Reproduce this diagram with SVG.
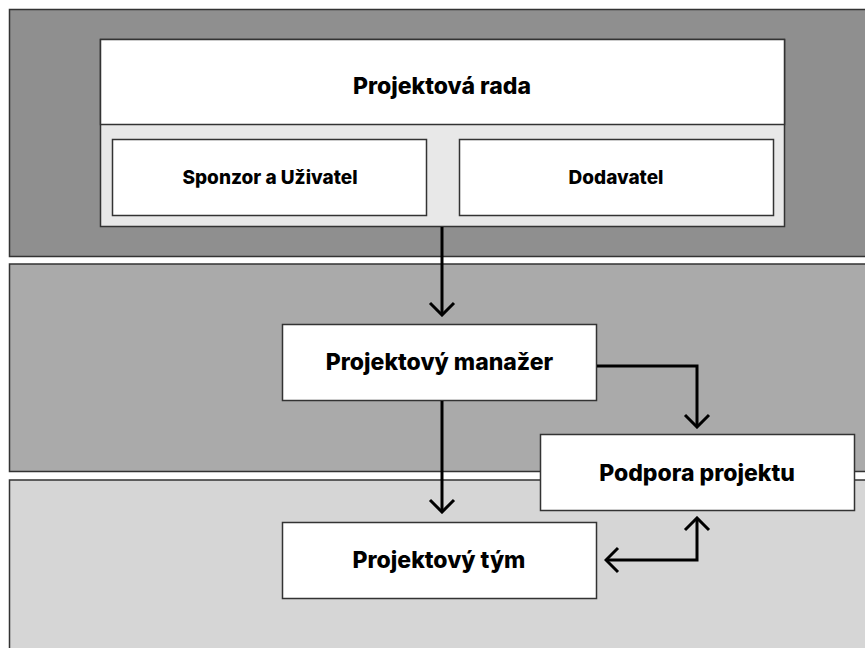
<svg xmlns="http://www.w3.org/2000/svg" width="865" height="648" viewBox="0 0 865 648">
<defs>
<style>
.band{stroke:#333;stroke-width:1.5}
.box{fill:#fff;stroke:#333;stroke-width:1.5}
.t{font-family:Inter,"Liberation Sans",sans-serif;font-weight:800;fill:#000;text-anchor:middle;dominant-baseline:central}
.big{font-size:23px}
.small{font-size:19px}
.c{fill:none;stroke:#000;stroke-width:3}
</style>
<marker id="ah" viewBox="-14 -14 16 28" refX="0" refY="0" markerWidth="16" markerHeight="28" markerUnits="userSpaceOnUse" orient="auto-start-reverse">
<path d="M-12,-12 L0,0 L-12,12" fill="none" stroke="#000" stroke-width="3"/>
</marker>
</defs>
<rect width="865" height="648" fill="#fff"/>
<g id="bands">
<rect class="band" x="9.5" y="9.5" width="870" height="247" fill="#8f8f8f"/>
<rect class="band" x="9.5" y="264" width="870" height="207.5" fill="#aaaaaa"/>
<rect class="band" x="9.5" y="480" width="870" height="180" fill="#d6d6d6"/>
</g>
<g id="projektova-rada">
<rect x="100.5" y="39.5" width="684" height="187" fill="#e8e8e8" stroke="#333" stroke-width="1.5"/>
<rect x="100.5" y="39.5" width="684" height="85" fill="#fff" stroke="#333" stroke-width="1.5"/>
<text class="t big" x="442" y="86">Projektová rada</text>
</g>
<g id="sponzor">
<rect class="box" x="112.5" y="139.5" width="314" height="76"/>
<text class="t small" x="270" y="177">Sponzor a Uživatel</text>
</g>
<g id="dodavatel">
<rect class="box" x="459.5" y="139.5" width="314" height="76"/>
<text class="t small" x="616" y="177">Dodavatel</text>
</g>
<g id="manazer">
<rect class="box" x="282.5" y="324.5" width="314" height="76"/>
<text class="t big" x="439.5" y="362">Projektový manažer</text>
</g>
<g id="podpora">
<rect class="box" x="540.5" y="434.5" width="314" height="76"/>
<text class="t big" x="697" y="473">Podpora projektu</text>
</g>
<g id="tym">
<rect class="box" x="282.5" y="522.5" width="314" height="76"/>
<text class="t big" x="439" y="560">Projektový tým</text>
</g>
<g id="connectors">
<path class="c" d="M442,227 L442,315" marker-end="url(#ah)"/>
<path class="c" d="M597,366 L697,366 L697,427" marker-end="url(#ah)"/>
<path class="c" d="M442,401 L442,512" marker-end="url(#ah)"/>
<path class="c" d="M606,560 L697,560 L697,518" marker-start="url(#ah)" marker-end="url(#ah)"/>
</g>
</svg>
